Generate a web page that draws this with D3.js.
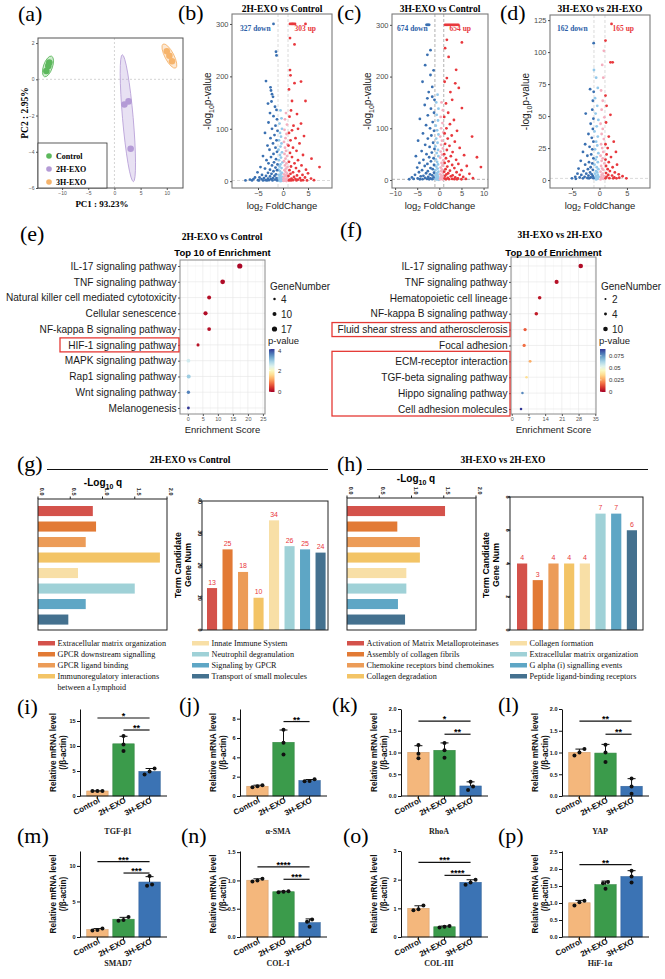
<!DOCTYPE html>
<html><head><meta charset="utf-8">
<script src="https://cdn.jsdelivr.net/npm/d3@7"></script>
<style>body{margin:0;background:#fff}svg{display:block}</style>
</head><body>
<svg id="fig" width="665" height="979"></svg>
<script>
// ================= DATA =================
// (a) PCA
const pcaGroups = ["Control", "2H-EXO", "3H-EXO"];
const pcaColors = ["#5cb85c", "#b49bd6", "#f6b46c"];
const pcaPC1 = [[-12.44, -12.63, -13.0], [1.9, 2.7, 3.1], [10.0, 10.5, 11.0]];
const pcaPC2 = [[0.93, 0.74, 0.46], [-1.39, -1.22, -3.83], [1.55, 1.3, 1.0]];
const pcaXTicks = [-10, -5, 0, 5, 10];
const pcaYTicks = [-6, -4, -2, 0, 2];

// (b)(c)(d) volcano points [log2FC, -log10 p]
const bPts = [[-1.9,300],[-1.4,247],[-1.3,240],[-3.4,191],[-2.5,179],[-2.4,173],[-2.2,166],[-2.0,161],[-2.3,152],[-3.0,148],[-1.6,142],[-1.3,136],[-2.6,130],[-1.9,124],[-1.2,118],[-2.9,112],[-1.5,106],[-2.2,100],[-1.1,96],[-3.6,92],[-1.7,88],[-2.5,82],[-1.3,78],[-2.0,72],[-3.1,68],[-1.5,64],[-2.7,60],[-1.2,56],[-1.9,52],[-4.0,48],[-2.4,46],[-1.4,42],[-3.3,40],[-1.8,36],[-2.9,34],[-1.1,32],[-2.2,30],[-4.5,27],[-1.5,26],[-3.6,24],[-2.6,22],[-1.2,21],[-1.9,19],[-5.1,17],[-3.0,16],[-2.3,14],[-1.4,13],[-4.2,12],[-3.4,10],[-1.7,10],[-2.6,9],[-5.6,7],[-4.7,7],[-3.8,6],[-2.0,6],[-1.3,6],[-3.0,5],[-4.3,4],[-2.4,4],[-5.9,4],[-6.6,3],[-1.6,3],[-3.5,2],[-5.0,2],[-2.8,2],[-4.0,1.5],[-7.5,1.5],[-1.2,1.5],[-2.1,1.5],[-6.2,1.5],[-3.2,1.4],[-4.8,1.4],
[-0.5,135],[-0.3,120],[-0.7,110],[-0.2,100],[-0.6,92],[-0.4,85],[-0.8,78],[-0.3,72],[-0.5,66],[-0.9,60],[-0.2,55],[-0.6,50],[-0.4,45],[-0.8,40],[-0.1,36],[-0.5,32],[-0.7,28],[-0.3,25],[-0.9,22],[-0.6,19],[-0.2,16],[-0.4,14],[-0.8,12],[-0.5,10],[-0.1,8],[-0.7,7],[-0.3,6],[-0.9,5],[-0.5,4],[-0.2,3],[-0.6,2.5],[-0.4,2],[-0.8,1.5],[-0.1,1],[-0.3,0.8],[-0.7,0.6],[-0.5,0.3],
[0.6,130],[0.4,118],[0.8,108],[0.3,98],[0.7,90],[0.5,82],[0.2,75],[0.9,70],[0.4,64],[0.6,58],[0.3,52],[0.8,48],[0.5,43],[0.2,38],[0.7,34],[0.4,30],[0.9,27],[0.6,24],[0.3,21],[0.5,18],[0.8,15],[0.2,13],[0.6,11],[0.4,9],[0.9,8],[0.1,6],[0.7,5],[0.3,4],[0.5,3],[0.8,2.5],[0.2,2],[0.6,1.5],[0.4,1],[0.1,0.6],[0.7,0.4],
[1.4,300],[1.7,300],[1.9,300],[2.1,300],[2.4,300],[4.5,300],[1.4,273],[2.3,261],[1.4,212],[1.5,202],[3.6,190],[2.3,187],[1.2,175],[4.5,153],[1.8,153],[1.6,135],[2.8,128],[1.3,123],[3.6,110],[2.1,106],[3.0,100],[1.8,97],[1.2,92],[4.2,86],[2.5,82],[1.5,78],[3.3,72],[1.1,68],[2.0,64],[2.7,58],[1.4,54],[4.0,50],[1.8,46],[5.7,43],[3.0,40],[1.2,37],[2.3,34],[3.7,30],[1.6,28],[7.3,27],[2.6,25],[4.6,22],[1.3,21],[3.2,19],[2.0,17],[5.0,15],[1.5,14],[3.9,12],[2.8,11],[1.1,10],[2.2,8],[4.4,7],[3.4,6],[1.7,5],[5.6,5],[2.5,4],[1.3,3],[3.0,3],[4.0,2],[6.2,2],[2.0,2],[1.2,1.5],[3.6,1.5],[4.8,1.5],[2.7,1.4],[1.6,1.4]];
const cPts = [[-2.9,300],[-2.7,300],[-2.5,300],[-2.3,300],[-2.0,251],[-2.7,242],[-3.2,222],[-1.3,212],[-2.0,203],[-3.8,190],[-1.6,180],[-2.4,170],[-1.6,161],[-2.7,158],[-1.1,155],[-3.3,145],[-1.9,138],[-1.2,130],[-2.6,125],[-4.4,118],[-1.5,112],[-3.0,106],[-2.1,100],[-1.2,95],[-3.7,90],[-1.8,86],[-2.6,80],[-4.8,76],[-1.4,72],[-3.2,68],[-2.2,64],[-1.1,60],[-4.0,56],[-1.7,53],[-2.9,50],[-5.3,46],[-2.3,44],[-1.3,42],[-3.6,39],[-1.9,36],[-4.5,33],[-2.7,31],[-1.2,29],[-3.3,27],[-5.0,24],[-2.0,23],[-1.5,21],[-3.9,19],[-2.6,17],[-4.6,15],[-1.2,14],[-3.0,13],[-2.1,11],[-5.5,10],[-1.6,9],[-3.6,8],[-4.2,7],[-2.5,6],[-6.2,5],[-1.3,5],[-3.2,4],[-4.9,3],[-2.0,3],[-5.8,2],[-2.8,2],[-3.8,1.5],[-1.6,1.5],[-4.4,1.4],[-6.8,1.4],[-2.3,1.4],
[-0.4,165],[-0.7,150],[-0.2,138],[-0.6,126],[-0.3,115],[-0.8,105],[-0.5,96],[-0.2,88],[-0.7,80],[-0.4,72],[-0.9,65],[-0.3,58],[-0.6,52],[-0.2,46],[-0.8,40],[-0.5,35],[-0.3,30],[-0.7,26],[-0.4,22],[-0.9,19],[-0.2,16],[-0.6,13],[-0.4,11],[-0.8,9],[-0.3,7],[-0.5,5.5],[-0.7,4],[-0.2,3],[-0.9,2],[-0.4,1.5],[-0.6,1],[-0.1,0.5],
[0.5,150],[0.8,135],[0.3,122],[0.7,110],[0.4,100],[0.9,92],[0.2,84],[0.6,76],[0.4,68],[0.8,61],[0.3,55],[0.6,49],[0.2,43],[0.9,38],[0.5,33],[0.7,28],[0.3,24],[0.6,20],[0.4,17],[0.8,14],[0.2,11],[0.5,9],[0.7,7],[0.3,5],[0.9,4],[0.4,3],[0.6,2],[0.2,1.2],[0.8,0.8],
[1.3,300],[1.6,300],[1.9,300],[2.2,300],[2.5,300],[2.8,300],[3.1,300],[3.4,300],[3.7,300],[4.0,300],[4.3,300],[1.7,271],[5.1,266],[1.3,255],[2.1,238],[3.8,213],[1.7,197],[1.2,190],[3.6,187],[4.4,178],[2.5,170],[2.9,155],[1.5,148],[5.1,139],[2.0,130],[1.1,122],[3.3,116],[2.4,108],[1.6,100],[4.0,95],[1.2,90],[2.8,86],[7.4,84],[1.9,80],[3.5,74],[1.3,70],[2.3,66],[4.6,62],[1.7,58],[3.0,54],[1.1,50],[5.6,48],[2.6,46],[8.5,44],[1.5,42],[3.8,39],[2.1,36],[1.2,33],[4.3,31],[2.9,29],[6.2,27],[1.8,26],[9.4,25],[3.4,23],[1.4,21],[5.0,19],[2.4,18],[1.1,16],[3.9,15],[2.0,13],[6.8,12],[1.6,11],[4.6,10],[3.0,9],[1.3,8],[2.6,7],[5.4,6],[3.6,5],[1.9,4],[7.6,3.5],[4.2,3],[1.2,3],[2.9,2],[6.0,2],[2.2,1.5],[3.4,1.5],[5.0,1.4],[1.5,1.4],[4.0,1.4]];
const dPts = [[-1.05,107],[-1.0,86],[-1.7,71],[-1.05,69],[-1.2,62],[-2.5,52],[-1.3,55],[-1.1,48],[-1.6,44],[-1.2,40],[-2.0,36],[-1.4,33],[-1.1,30],[-2.6,28],[-1.8,26],[-1.3,24],[-3.0,22],[-1.5,20],[-2.2,19],[-1.1,17],[-3.4,15],[-1.9,14],[-1.3,13],[-2.6,12],[-1.6,10],[-3.8,9],[-2.1,8.5],[-1.2,8],[-2.9,7],[-1.7,6],[-4.0,5],[-2.4,5],[-1.4,4.5],[-3.3,4],[-2.0,3.5],[-1.2,3],[-4.4,2.5],[-2.7,2.5],[-1.6,2],[-3.6,2],[-2.2,1.6],[-4.3,1],[-1.1,1.5],[-3.0,1.4],[-5.0,1.4],[-1.9,1.4],
[-0.6,80],[-0.3,72],[-0.8,64],[-0.4,58],[-0.7,52],[-0.2,47],[-0.5,42],[-0.9,38],[-0.3,34],[-0.6,30],[-0.4,27],[-0.8,24],[-0.2,21],[-0.5,18],[-0.7,16],[-0.3,14],[-0.9,12],[-0.5,10],[-0.2,8.5],[-0.6,7],[-0.4,6],[-0.8,5],[-0.3,4],[-0.6,3],[-0.1,2.5],[-0.5,2],[-0.8,1.5],[-0.3,1],[-0.6,0.5],
[0.8,101],[0.5,90],[0.7,80],[0.3,70],[0.6,62],[0.4,55],[0.9,49],[0.2,44],[0.6,40],[0.4,36],[0.8,32],[0.3,28],[0.5,25],[0.7,22],[0.2,19],[0.6,17],[0.4,15],[0.9,13],[0.3,11],[0.5,9],[0.7,8],[0.2,6.5],[0.6,5],[0.4,4],[0.8,3],[0.3,2.2],[0.5,1.5],[0.7,1],[0.2,0.5],
[2.2,122],[1.1,109],[2.0,92],[2.4,92],[1.1,66],[1.3,58],[2.0,51],[1.2,45],[1.7,34],[2.6,30],[1.1,28],[1.5,25],[3.0,22],[1.3,20],[2.1,18],[1.1,16],[1.7,14],[3.2,12],[1.2,11],[2.4,10],[1.5,8.5],[1.9,7],[2.8,6],[1.2,5.5],[3.5,4.5],[1.6,4],[2.3,3.5],[4.2,3],[1.3,2.5],[2.7,2],[3.6,1.8],[1.8,1.5],[4.9,1.4],[1.1,1.4],[2.5,1.4],[3.1,1.4]];
const volcTitles = ["2H-EXO vs Control", "3H-EXO vs Control", "3H-EXO vs 2H-EXO"];
const volcDown = ["327 down", "674 down", "162 down"];
const volcUp = ["303 up", "654 up", "165 up"];
const bXTicks = [-5, 0, 5], cXTicks = [-10, -5, 0, 5, 10], dXTicks = [-5, 0, 5];
const bYTicks = [0, 100, 200, 300], cYTicks = [0, 100, 200, 300], dYTicks = [0, 25, 50, 75, 100, 125];

// (e)(f) KEGG enrichment
const eTerms = ["IL-17 signaling pathway","TNF signaling pathway","Natural killer cell mediated cytotoxicity","Cellular senescence","NF-kappa B signaling pathway","HIF-1 signaling pathway","MAPK signaling pathway","Rap1 signaling pathway","Wnt signaling pathway","Melanogenesis"];
const eScore = [17.3, 11.6, 7.1, 5.9, 7.1, 3.4, 0.2, 0.3, 0.2, 0.2];
const eGenes = [17, 14, 10, 11, 9, 6, 9, 10, 7, 5];
const ePval = [0.05, 0.08, 0.12, 0.1, 0.12, 0.15, 2.5, 2.9, 3.5, 4.0];
const eXTicks = [0, 5, 10, 15, 20, 25];
const eSizeTicks = [4, 10, 17];
const eColorTicks = [0, 2, 4];
const fTerms = ["IL-17 signaling pathway","TNF signaling pathway","Hematopoietic cell lineage","NF-kappa B signaling pathway","Fluid shear stress and atherosclerosis","Focal adhesion","ECM-receptor interaction","TGF-beta signaling pathway","Hippo signaling pathway","Cell adhesion molecules"];
const fScore = [28.9, 18.8, 11.7, 10.3, 5.6, 5.2, 7.7, 6.2, 4.5, 3.9];
const fGenes = [10, 8, 6, 6, 5, 5, 4, 3, 3, 3];
const fPval = [0.002, 0.003, 0.004, 0.005, 0.015, 0.018, 0.027, 0.036, 0.077, 0.089];
const fXTicks = [0, 7, 14, 21, 28, 35];
const fSizeTicks = [2, 4, 10];
const fColorTicks = [0, 0.025, 0.05, 0.075];

// (g)(h) Reactome
const gTerms = ["Extracellular matrix organization","GPCR downstream signalling","GPCR ligand binding","Immunoregulatory interactions|between a Lymphoid","Innate Immune System","Neutrophil degranulation","Signaling by GPCR","Transport of small molecules"];
const gLogQ = [0.85, 0.9, 0.74, 1.89, 0.62, 1.5, 0.74, 0.47];
const gCounts = [13, 25, 18, 10, 34, 26, 25, 24];
const gCountTicks = [0, 10, 20, 30, 40];
const hTerms = ["Activation of Matrix Metalloproteinases","Assembly of collagen fibrils","Chemokine receptors bind chemokines"," Collagen degradation","Collagen formation","Extracellular matrix organization","G alpha (i) signalling events","Peptide ligand-binding receptors"];
const hLogQ = [1.52, 0.78, 1.13, 1.13, 0.92, 0.92, 0.79, 0.9];
const hCounts = [4, 3, 4, 4, 4, 7, 7, 6];
const hCountTicks = [0, 2, 4, 6, 8];
const qTicks = [0, 0.5, 1.0, 1.5, 2.0];
const termColors = ["#d4524b","#e27a35","#ec9c58","#f3c466","#f8dfa6","#9fd1d7","#5ea6c5","#44718f"];

// (i)-(p) qPCR
const qGenes = ["TGF-β1","α-SMA","RhoA","YAP","SMAD7","COL-I","COL-III","HiF-1α"];
const qGroups = ["Control","2H-EXO","3H-EXO"];
const qColors = ["#f4b77c","#3b9b4b","#3b73b4"];
const qReps = [
 [[1.0,1.02,0.98],[12.0,10.3,9.0],[5.5,4.9,4.3]],
 [[1.12,1.0,0.9],[6.85,5.5,4.3],[1.72,1.55,1.52]],
 [[1.17,0.87,0.97],[1.22,1.05,0.88],[0.33,0.22,0.14]],
 [[1.08,1.0,0.93],[1.18,1.0,0.78],[0.4,0.22,0.05]],
 [[1.2,0.9,1.0],[2.8,2.4,2.3],[8.6,7.4,7.2]],
 [[1.03,1.0,0.98],[0.81,0.8,0.79],[0.31,0.27,0.18]],
 [[1.1,0.97,0.93],[0.38,0.36,0.33],[2.0,1.9,1.82]],
 [[1.07,1.02,0.93],[1.62,1.58,1.42],[1.95,1.78,1.6]]
];
const qYMax = [17.4, 9.0, 2.0, 2.0, 12.1, 1.52, 3.0, 2.53];
const qYTicks = [[0,5,10,15],[0,2,4,6,8],[0,0.5,1,1.5,2],[0,0.5,1,1.5,2],[0,5,10],[0,0.5,1,1.5],[0,1,2,3],[0,0.5,1,1.5,2,2.5]];
const qDecimals = [0, 0, 1, 1, 0, 1, 0, 1];
const qSig = [
 [[0,2,15.6,"*"],[1,2,13.2,"**"]],
 [[1,2,7.7,"**"]],
 [[0,2,1.72,"*"],[1,2,1.42,"**"]],
 [[0,2,1.72,"**"],[1,2,1.42,"**"]],
 [[0,2,10.6,"***"],[1,2,9.0,"***"]],
 [[0,2,1.24,"****"],[1,2,1.02,"***"]],
 [[0,2,2.6,"***"],[1,2,2.15,"****"]],
 [[0,2,2.13,"**"]]
];

// ================= DRAWING =================
const svg = d3.select("#fig");
const SERIF = "'Liberation Serif','Times New Roman',serif";
const SANS = "'Liberation Sans',Arial,sans-serif";

function txt(parent, x, y, s, o = {}) {
  const t = parent.append("text").attr("x", x).attr("y", y).text(s)
    .attr("font-family", o.ff || SANS).attr("font-size", o.fs || 8).attr("fill", o.fill || "#000");
  if (o.fw) t.attr("font-weight", o.fw);
  if (o.anchor) t.attr("text-anchor", o.anchor);
  if (o.rot !== undefined) t.attr("transform", `rotate(${o.rot},${x},${y})`);
  return t;
}
function styleAxis(sel, fs, color, fw, keepDomain) {
  if (!keepDomain) sel.select(".domain").remove();
  else sel.select(".domain").attr("stroke", color);
  sel.selectAll(".tick line").attr("stroke", color);
  sel.selectAll(".tick text").attr("font-size", fs).attr("font-family", SANS).attr("fill", color);
  if (fw) sel.selectAll(".tick text").attr("font-weight", fw);
}
function panelLabel(s, x, y) { txt(svg, x, y, s, {ff: SERIF, fs: 22}); }

panelLabel("(a)", 18, 21); panelLabel("(b)", 178, 20); panelLabel("(c)", 337, 20); panelLabel("(d)", 500, 20);
panelLabel("(e)", 20, 241); panelLabel("(f)", 340, 237); panelLabel("(g)", 17, 471); panelLabel("(h)", 337, 471);
panelLabel("(i)", 17, 714); panelLabel("(j)", 179, 712); panelLabel("(k)", 332, 712); panelLabel("(l)", 498, 712);
panelLabel("(m)", 17, 843); panelLabel("(n)", 181, 843); panelLabel("(o)", 343, 843); panelLabel("(p)", 498, 843);

// ---------- (a) PCA ----------
function covEllipse(xs, ys, k, minR) {
  const n = xs.length, mx = d3.mean(xs), my = d3.mean(ys);
  let a = 0, b = 0, c = 0;
  for (let i = 0; i < n; i++) { const dx = xs[i] - mx, dy = ys[i] - my; a += dx * dx; b += dx * dy; c += dy * dy; }
  a /= n - 1; b /= n - 1; c /= n - 1;
  const tr = a + c, det = a * c - b * b, disc = Math.sqrt(Math.max(tr * tr / 4 - det, 0));
  const l1 = tr / 2 + disc, l2 = tr / 2 - disc;
  const ang = Math.atan2(l1 - a, b) * 180 / Math.PI;
  return {cx: mx, cy: my, rx: Math.max(k * Math.sqrt(l1), minR), ry: Math.max(k * Math.sqrt(Math.max(l2, 0)), minR), ang};
}
(function () {
  const L = 38, R = 183, T = 38, B = 188;
  const x = d3.scaleLinear().domain([-14.6, 13.1]).range([L, R]);
  const y = d3.scaleLinear().domain([-6, 2.28]).range([B, T]);
  const g = svg.append("g");
  g.append("line").attr("x1", x(0)).attr("x2", x(0)).attr("y1", T).attr("y2", B).attr("stroke", "#d4d4d4").attr("stroke-dasharray", "2,2");
  g.append("line").attr("x1", L).attr("x2", R).attr("y1", y(0)).attr("y2", y(0)).attr("stroke", "#d4d4d4").attr("stroke-dasharray", "2,2");
  pcaGroups.forEach((name, gi) => {
    const xs = pcaPC1[gi].map(x), ys = pcaPC2[gi].map(y);
    const e = covEllipse(xs, ys, 2.4, 4.5);
    g.append("ellipse").attr("cx", e.cx).attr("cy", e.cy).attr("rx", e.rx).attr("ry", e.ry)
      .attr("transform", `rotate(${e.ang},${e.cx},${e.cy})`)
      .attr("fill", pcaColors[gi]).attr("fill-opacity", 0.3).attr("stroke", pcaColors[gi]).attr("stroke-width", 0.8);
    xs.forEach((xx, k) => g.append("circle").attr("cx", xx).attr("cy", ys[k]).attr("r", 3.3).attr("fill", pcaColors[gi]));
  });
  g.append("rect").attr("x", L).attr("y", T).attr("width", R - L).attr("height", B - T).attr("fill", "none").attr("stroke", "#555").attr("stroke-width", 1);
  const xa = g.append("g").attr("transform", `translate(0,${B})`).call(d3.axisBottom(x).tickValues(pcaXTicks).tickSize(2).tickPadding(1.5));
  styleAxis(xa, 5, "#555");
  const ya = g.append("g").attr("transform", `translate(${L},0)`).call(d3.axisLeft(y).tickValues(pcaYTicks).tickSize(2).tickPadding(1.5));
  styleAxis(ya, 5, "#555");
  txt(g, 28, 113, "PC2 : 2.95%", {ff: SERIF, fs: 9.5, fw: "bold", anchor: "middle", rot: -90});
  txt(g, 102, 207, "PC1 : 93.23%", {ff: SERIF, fs: 9, fw: "bold", anchor: "middle"});
  // legend
  g.append("rect").attr("x", L).attr("y", 143).attr("width", 69).attr("height", 45).attr("fill", "#fff").attr("stroke", "#333").attr("stroke-width", 0.8);
  pcaGroups.forEach((name, gi) => {
    const yy = 156 + gi * 13;
    g.append("circle").attr("cx", 49).attr("cy", yy).attr("r", 2.8).attr("fill", pcaColors[gi]);
    txt(g, 56, yy + 3, name, {ff: SERIF, fs: 8, fw: "bold"});
  });
})();

// ---------- (b)(c)(d) volcano ----------
function volcano(o) {
  const {L, R, T, B} = o;
  const x = d3.scaleLinear().domain(o.xd).range([L, R]);
  const y = d3.scaleLinear().domain(o.yd).range([B, T]);
  const g = svg.append("g");
  [-1, 1].forEach(v => g.append("line").attr("x1", x(v)).attr("x2", x(v)).attr("y1", T).attr("y2", B)
    .attr("stroke", o.lc).attr("stroke-dasharray", "3,2").attr("stroke-width", 0.9));
  g.append("line").attr("x1", L).attr("x2", R).attr("y1", y(1.3)).attr("y2", y(1.3))
    .attr("stroke", o.lc).attr("stroke-dasharray", "3,2").attr("stroke-width", 0.9);
  const col = v => v < -1 ? "#3a70b1" : v < 0 ? "#93c8ea" : v <= 1 ? "#f4afbf" : "#e8383d";
  const pts = o.pts.slice().sort((p, q) => (Math.abs(p[0]) > 1) - (Math.abs(q[0]) > 1));
  g.selectAll(null).data(pts).join("circle")
    .attr("cx", d => x(d[0])).attr("cy", d => y(d[1])).attr("r", 1.4).attr("fill", d => col(d[0]));
  g.append("rect").attr("x", L).attr("y", T).attr("width", R - L).attr("height", B - T).attr("fill", "none").attr("stroke", "#7a7a7a").attr("stroke-width", 1.1);
  const xa = g.append("g").attr("transform", `translate(0,${B})`).call(d3.axisBottom(x).tickValues(o.xt).tickSize(2).tickPadding(1));
  styleAxis(xa, 7.5, "#4d4d4d");
  const ya = g.append("g").attr("transform", `translate(${L},0)`).call(d3.axisLeft(y).tickValues(o.yt).tickSize(2).tickPadding(1.5));
  styleAxis(ya, 7.5, "#4d4d4d");
  const cx = (L + R) / 2;
  txt(g, cx, 12, o.title, {ff: SERIF, fs: 9.5, fw: "bold", anchor: "middle"});
  txt(g, o.downX, 31, o.down, {ff: SERIF, fs: 7.5, fw: "bold", fill: "#2b5ea7"});
  txt(g, o.upX, 31, o.up, {ff: SERIF, fs: 7.5, fw: "bold", fill: "#e8383d", anchor: "end"});
  const yl = txt(g, L - 21, (T + B) / 2, "", {fs: 10, anchor: "middle", rot: -90, fill: "#222"});
  yl.append("tspan").text("-log");
  yl.append("tspan").text("10").attr("font-size", 7).attr("dy", 2.5);
  yl.append("tspan").text("p-value").attr("dy", -2.5);
  const xl = txt(g, cx, 208.5, "", {fs: 9.5, anchor: "middle", fill: "#222"});
  xl.append("tspan").text("log");
  xl.append("tspan").text("2").attr("font-size", 6.5).attr("dy", 2.5);
  xl.append("tspan").text(" FoldChange").attr("dy", -2.5);
}
volcano({L: 232, R: 332, T: 14, B: 188, xd: [-10.2, 9.8], yd: [-13, 319], xt: bXTicks, yt: bYTicks, pts: bPts, lc: "#d6d6d6",
  title: volcTitles[0], down: volcDown[0], up: volcUp[0], downX: 240, upX: 316});
volcano({L: 392, R: 488, T: 14, B: 188, xd: [-10.7, 11], yd: [-15.5, 321], xt: cXTicks, yt: cYTicks, pts: cPts, lc: "#a8a8a8",
  title: volcTitles[1], down: volcDown[1], up: volcUp[1], downX: 397, upX: 471});
volcano({L: 550, R: 650, T: 15, B: 188, xd: [-9, 9.2], yd: [-6.2, 129], xt: dXTicks, yt: dYTicks, pts: dPts, lc: "#d6d6d6",
  title: volcTitles[2], down: volcDown[2], up: volcUp[2], downX: 557, upX: 634});

// ---------- (e)(f) enrichment ----------
const defs = svg.append("defs");
function enrich(o) {
  const {L, R, T, B} = o;
  const g = svg.append("g");
  const x = d3.scaleLinear().domain(o.xd).range([L, R]);
  const y = d3.scalePoint().domain(o.terms).range([o.r0, o.r1]);
  const size = d3.scaleSqrt().domain([0, o.smax]).range([0, o.rmax]);
  const color = v => d3.interpolateRdYlBu(Math.min(1, v / o.pmax));
  g.append("rect").attr("x", L).attr("y", T).attr("width", R - L).attr("height", B - T).attr("fill", "#fff");
  o.xt.forEach((v, i) => {
    g.append("line").attr("x1", x(v)).attr("x2", x(v)).attr("y1", T).attr("y2", B).attr("stroke", "#e6e6e6").attr("stroke-width", 0.6);
    if (i < o.xt.length - 1) {
      const m = (v + o.xt[i + 1]) / 2;
      g.append("line").attr("x1", x(m)).attr("x2", x(m)).attr("y1", T).attr("y2", B).attr("stroke", "#f3f3f3").attr("stroke-width", 0.4);
    }
  });
  o.terms.forEach(t => g.append("line").attr("x1", L).attr("x2", R).attr("y1", y(t)).attr("y2", y(t)).attr("stroke", "#e6e6e6").attr("stroke-width", 0.6));
  g.selectAll(null).data(o.terms).join("circle")
    .attr("cx", (d, i) => x(o.score[i])).attr("cy", d => y(d))
    .attr("r", (d, i) => size(o.genes[i])).attr("fill", (d, i) => color(o.pval[i]));
  g.append("rect").attr("x", L).attr("y", T).attr("width", R - L).attr("height", B - T).attr("fill", "none").attr("stroke", "#8a8a8a").attr("stroke-width", 1);
  const xa = g.append("g").attr("transform", `translate(0,${B})`).call(d3.axisBottom(x).tickValues(o.xt).tickSize(2).tickPadding(1.5));
  styleAxis(xa, 5.5, "#555");
  const ya = g.append("g").attr("transform", `translate(${L},0)`).call(d3.axisLeft(y).tickSize(2).tickPadding(1.5));
  styleAxis(ya, 10.1, "#1a1a1a");
  ya.selectAll(".tick line").attr("stroke", "#555");
  const cx = (L + R) / 2;
  txt(g, o.subX, o.subY, o.sub, {ff: SERIF, fs: 9.5, fw: "bold", anchor: "middle"});
  txt(g, cx, o.titleY, "Top 10 of  Enrichment", {fs: 9.5, fw: "bold", anchor: "middle"});
  txt(g, cx, 433, "Enrichment Score", {fs: 9.5, anchor: "middle", fill: "#222"});
  // size legend
  txt(g, o.lx, 290, "GeneNumber", {fs: 10, fill: "#222"});
  o.sizeTicks.forEach((v, i) => {
    const yy = 299 + i * 15;
    g.append("circle").attr("cx", o.lx + 4.5).attr("cy", yy).attr("r", size(v)).attr("fill", "#111");
    txt(g, o.lx + 11, yy + 3.5, String(v), {fs: 10, fill: "#222"});
  });
  txt(g, o.lx - 2, 343.5, "p-value", {fs: 9.5, fill: "#222"});
  const gid = "grad" + o.id;
  const grad = defs.append("linearGradient").attr("id", gid).attr("x1", 0).attr("y1", 1).attr("x2", 0).attr("y2", 0);
  d3.range(0, 1.0001, 0.1).forEach(t => grad.append("stop").attr("offset", t).attr("stop-color", d3.interpolateRdYlBu(t)));
  const cb = d3.scaleLinear().domain([0, o.pmax]).range([392, 349]);
  g.append("rect").attr("x", o.lx - 1).attr("y", 349).attr("width", 5.5).attr("height", 43).attr("fill", `url(#${gid})`);
  o.colorTicks.forEach(v => {
    g.append("line").attr("x1", o.lx - 1).attr("x2", o.lx + 0.5).attr("y1", cb(v)).attr("y2", cb(v)).attr("stroke", "#fff").attr("stroke-width", 0.6);
    txt(g, o.lx + 8, Math.max(cb(v) + 2, 352.5), String(v), {fs: 6, fill: "#333"});
  });
  return {g, y};
}
const eRes = enrich({id: "e", L: 180, R: 265, T: 260, B: 414, r0: 266, r1: 408, xd: [-2.6, 25.7], xt: eXTicks,
  terms: eTerms, score: eScore, genes: eGenes, pval: ePval, smax: 17, rmax: 2.6, pmax: 4,
  sub: "2H-EXO vs Control", subX: 222, subY: 240, titleY: 256, lx: 270, sizeTicks: eSizeTicks, colorTicks: eColorTicks});
const fRes = enrich({id: "f", L: 511, R: 596, T: 257, B: 414, r0: 266, r1: 409, xd: [-0.3, 35.3], xt: fXTicks,
  terms: fTerms, score: fScore, genes: fGenes, pval: fPval, smax: 10, rmax: 2.3, pmax: 0.089,
  sub: "3H-EXO vs 2H-EXO", subX: 560, subY: 238, titleY: 256, lx: 601, sizeTicks: fSizeTicks, colorTicks: fColorTicks});
// red highlight boxes
function redBox(x1, y1, x2, y2) {
  svg.append("rect").attr("x", x1).attr("y", y1).attr("width", x2 - x1).attr("height", y2 - y1)
    .attr("fill", "none").attr("stroke", "#e53935").attr("stroke-width", 1.3);
}
redBox(60, eRes.y(eTerms[5]) - 7, 179, eRes.y(eTerms[5]) + 7);
redBox(332, fRes.y(fTerms[4]) - 7, 510, fRes.y(fTerms[4]) + 7);
redBox(332, fRes.y(fTerms[6]) - 10, 510, fRes.y(fTerms[9]) + 7);

// ---------- (g)(h) Reactome ----------
function reactome(o) {
  const g = svg.append("g");
  txt(g, o.titleX, 463, o.title, {ff: SERIF, fs: 9.5, fw: "bold", anchor: "middle"});
  g.append("line").attr("x1", o.lineX1).attr("x2", o.lineX2).attr("y1", 469.5).attr("y2", 469.5).attr("stroke", "#111").attr("stroke-width", 1.2);
  const lq = txt(g, o.lqX, o.lqY, "", {fs: 10, fw: "bold", anchor: "middle"});
  lq.append("tspan").text("-Log");
  lq.append("tspan").text("10").attr("font-size", 7).attr("dy", 2.5);
  lq.append("tspan").text(" q").attr("dy", -2.5);
  // left horizontal bars
  const xl = d3.scaleLinear().domain([0, 2]).range([o.lL, o.lR]);
  const yb = d3.scaleBand().domain(d3.range(8)).range([506, 624.6]).paddingInner(0.35).paddingOuter(0);
  g.selectAll(null).data(o.logq).join("rect")
    .attr("x", o.lL).attr("y", (d, i) => yb(i)).attr("width", d => xl(d) - o.lL).attr("height", yb.bandwidth())
    .attr("fill", (d, i) => termColors[i]);
  g.append("rect").attr("x", o.lL).attr("y", o.lT).attr("width", o.lR - o.lL).attr("height", 630 - o.lT).attr("fill", "none").attr("stroke", "#222").attr("stroke-width", 1);
  qTicks.forEach(v => {
    g.append("line").attr("x1", xl(v)).attr("x2", xl(v)).attr("y1", o.lT).attr("y2", o.lT - 2.5).attr("stroke", "#222");
    txt(g, xl(v) + 2, o.lT - 3.5, d3.format(".1f")(v), {fs: 5.5, fw: "bold", anchor: "end", rot: 90, fill: "#222"});
  });
  // right vertical bars
  const xr = d3.scaleBand().domain(d3.range(8)).range([o.rb0, o.rb1]).paddingInner(0.35).paddingOuter(0);
  const yr = d3.scaleLinear().domain([0, o.cmax]).range([630, o.rT]);
  g.selectAll(null).data(o.counts).join("rect")
    .attr("x", (d, i) => xr(i)).attr("y", d => yr(d)).attr("width", xr.bandwidth()).attr("height", d => 630 - yr(d))
    .attr("fill", (d, i) => termColors[i]);
  g.selectAll(null).data(o.counts).join("text")
    .attr("x", (d, i) => xr(i) + xr.bandwidth() / 2).attr("y", d => yr(d) - 3.5).text(d => d)
    .attr("text-anchor", "middle").attr("font-family", SANS).attr("font-size", 7).attr("fill", "#e8383d");
  g.append("rect").attr("x", o.rL).attr("y", o.rT).attr("width", o.rR - o.rL).attr("height", 630 - o.rT).attr("fill", "none").attr("stroke", "#222").attr("stroke-width", 1);
  o.cticks.forEach(v => {
    g.append("line").attr("x1", o.rL).attr("x2", o.rL - 2.5).attr("y1", yr(v)).attr("y2", yr(v)).attr("stroke", "#222");
    txt(g, o.rL - 4, yr(v), String(v), {fs: 5.5, fw: "bold", anchor: "middle", rot: 90, fill: "#222"});
  });
  txt(g, o.rL - 21, 565, "Term Candidate", {fs: 8.8, fw: "bold", anchor: "middle", rot: -90});
  txt(g, o.rL - 11, 565, "Gene Num", {fs: 8.8, fw: "bold", anchor: "middle", rot: -90});
  // legend
  o.terms.forEach((t, i) => {
    const c = Math.floor(i / 4), r = i % 4;
    const yy = 646 + r * 11;
    g.append("rect").attr("x", o.legX[c]).attr("y", yy - 5).attr("width", 17).attr("height", 4.5).attr("fill", termColors[i]);
    t.split("|").forEach((line, k) => txt(g, o.legX[c] + 19.5, yy + k * 11, line, {ff: SERIF, fs: 8.2, fill: "#111"}));
  });
}
reactome({title: "2H-EXO vs Control", titleX: 190, lineX1: 47, lineX2: 328, lqX: 103, lqY: 486,
  logq: gLogQ, counts: gCounts, terms: gTerms, lL: 38, lR: 167, lT: 499, rL: 202, rR: 328, rT: 501, rb0: 207, rb1: 325.6,
  cmax: 40, cticks: gCountTicks, legX: [38, 192]});
reactome({title: "3H-EXO vs 2H-EXO", titleX: 503, lineX1: 367, lineX2: 648, lqX: 416, lqY: 482,
  logq: hLogQ, counts: hCounts, terms: hTerms, lL: 347, lR: 476, lT: 498, rL: 510, rR: 643, rT: 497, rb0: 517, rb1: 637,
  cmax: 8, cticks: hCountTicks, legX: [347, 510]});

// ---------- (i)-(p) qPCR ----------
function qpcr(i) {
  const col = i % 4, row = Math.floor(i / 4);
  const x0 = [80, 240, 401, 562][col];
  const y0 = [796, 937][row], yt = [709, 851][row];
  const g = svg.append("g");
  const y = d3.scaleLinear().domain([0, qYMax[i]]).range([y0, yt]);
  const x = d3.scaleBand().domain(qGroups).range([x0 + 6.75, x0 + 80.25]).paddingInner(0.18).paddingOuter(0);
  const bw = x.bandwidth();
  qGroups.forEach((grp, k) => {
    const vals = qReps[i][k];
    const m = d3.mean(vals), sd = d3.deviation(vals);
    const cx = x(grp) + bw / 2;
    g.append("rect").attr("x", x(grp)).attr("y", y(m)).attr("width", bw).attr("height", y0 - y(m))
      .attr("fill", qColors[k]).attr("stroke", d3.color(qColors[k]).darker(0.4)).attr("stroke-width", 0.6);
    g.append("line").attr("x1", cx).attr("x2", cx).attr("y1", y(m)).attr("y2", y(m + sd)).attr("stroke", "#111").attr("stroke-width", 1);
    g.append("line").attr("x1", cx - 4).attr("x2", cx + 4).attr("y1", y(m + sd)).attr("y2", y(m + sd)).attr("stroke", "#111").attr("stroke-width", 1);
    // spread overlapping replicate dots
    const idx = d3.range(vals.length).sort((a, b) => vals[a] - vals[b]);
    const off = new Array(vals.length).fill(0);
    let cluster = [idx[0]];
    const flush = () => { const n = cluster.length; cluster.forEach((id, j) => off[id] = (j - (n - 1) / 2) * 5); };
    for (let j = 1; j < idx.length; j++) {
      if (Math.abs(y(vals[idx[j]]) - y(vals[cluster[cluster.length - 1]])) < 4) cluster.push(idx[j]);
      else { flush(); cluster = [idx[j]]; }
    }
    flush();
    vals.forEach((v, j) => g.append("circle").attr("cx", cx + off[j]).attr("cy", y(v)).attr("r", 2).attr("fill", "#111"));
    g.append("line").attr("x1", cx).attr("x2", cx).attr("y1", y0).attr("y2", y0 + 3).attr("stroke", "#111");
    txt(g, cx + 3, y0 + 6, grp, {fs: 8, fw: "bold", anchor: "end", rot: -28, fill: "#111"});
  });
  g.append("line").attr("x1", x0).attr("x2", x0 + 87).attr("y1", y0).attr("y2", y0).attr("stroke", "#111").attr("stroke-width", 1);
  const fmt = qDecimals[i] ? d3.format(".1f") : d3.format("d");
  const ya = g.append("g").attr("transform", `translate(${x0},0)`)
    .call(d3.axisLeft(y).tickValues(qYTicks[i]).tickSize(3).tickSizeOuter(0).tickPadding(1.5).tickFormat(fmt));
  styleAxis(ya, 5.5, "#111", "bold", true);
  qSig[i].forEach(s => {
    const xa = x(qGroups[s[0]]) + bw / 2, xb = x(qGroups[s[1]]) + bw / 2, yy = y(s[2]);
    g.append("line").attr("x1", xa).attr("x2", xb).attr("y1", yy).attr("y2", yy).attr("stroke", "#111").attr("stroke-width", 1.2);
    txt(g, (xa + xb) / 2, yy + 1, s[3], {fs: 9, fw: "bold", anchor: "middle"});
  });
  const ym = (y0 + yt) / 2;
  txt(g, x0 - 24, ym, "Relative mRNA level", {fs: 8.2, fw: "bold", anchor: "middle", rot: -90, fill: "#111"});
  txt(g, x0 - 14, ym, "(/β-actin)", {fs: 8.2, fw: "bold", anchor: "middle", rot: -90, fill: "#111"});
  txt(g, x0 + 38, y0 + (row === 0 ? 38 : 29), qGenes[i], {ff: SERIF, fs: 8, fw: "bold", anchor: "middle", fill: "#222"});
}
qGenes.forEach((gname, i) => qpcr(i));
</script>
</body></html>
